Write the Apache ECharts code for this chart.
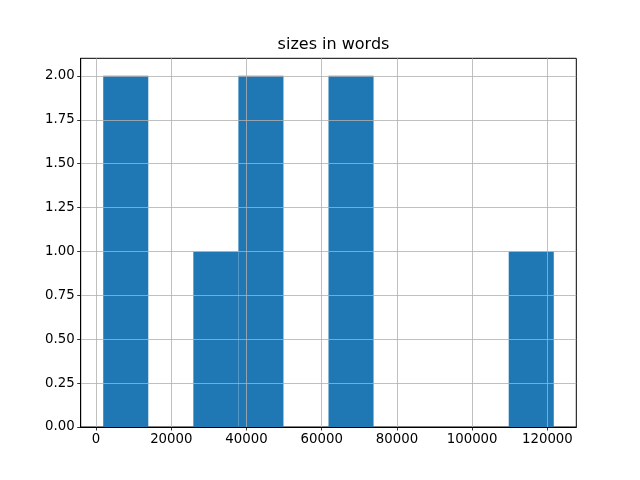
<!DOCTYPE html>
<html>
<head>
<meta charset="utf-8">
<script src="https://cdn.jsdelivr.net/npm/echarts@6/dist/echarts.min.js"></script>
<style>html,body{margin:0;padding:0;background:#fff}#c{width:640px;height:480px}</style>
</head>
<body>
<div id="c"></div>
<script>
const titleText = 'sizes in words';
const binEdges = [1900, 13880, 25860, 37840, 49820, 61800, 73780, 85760, 97740, 109720, 121700];
const counts = [2, 0, 1, 2, 0, 2, 0, 0, 0, 1];
const xTicks = [0, 20000, 40000, 60000, 80000, 100000, 120000];
const yTicks = [0, 0.25, 0.5, 0.75, 1.0, 1.25, 1.5, 1.75, 2.0];

const data = counts.map((c, i) => [binEdges[i], binEdges[i + 1], c]);
const font = 'DejaVu Sans';

const chart = echarts.init(document.getElementById('c'), null, {renderer: 'canvas'});
chart.setOption({
  animation: false,
  backgroundColor: '#ffffff',
  title: {
    text: titleText, left: 328.5, top: 32, textAlign: 'center',
    textStyle: {fontFamily: font, fontSize: 16, fontWeight: 'normal', color: '#000'}
  },
  grid: {left: 80.7, right: 63.7, top: 58.3, bottom: 53, containLabel: false,
    show: true, borderColor: '#000', borderWidth: 1},
  xAxis: {
    type: 'value', min: -4090, max: 127690, z: 5,
    axisLine: {show: true, onZero: false, lineStyle: {color: '#000', width: 1}},
    axisTick: {show: true, length: 3.5, inside: false, customValues: xTicks, lineStyle: {color: '#000', width: 0.8}},
    axisLabel: {show: true, customValues: xTicks, margin: 6, fontFamily: font, fontSize: 13.3, color: '#000',
      formatter: v => String(Math.round(v))},
    splitLine: {show: true, lineStyle: {color: '#b0b0b0', width: 0.8}}
  },
  yAxis: {
    type: 'value', min: 0, max: 2.1, z: 5,
    axisLine: {show: true, onZero: false, lineStyle: {color: '#000', width: 1}},
    axisTick: {show: true, length: 3.5, inside: false, customValues: yTicks, lineStyle: {color: '#000', width: 0.8}},
    axisLabel: {show: true, customValues: yTicks, margin: 6, fontFamily: font, fontSize: 13.3, color: '#000',
      formatter: v => v.toFixed(2)},
    splitLine: {show: true, lineStyle: {color: '#b0b0b0', width: 0.8}}
  },
  series: [{
    type: 'custom', z: 1,
    renderItem: function (params, api) {
      const x0 = api.value(0), x1 = api.value(1), h = api.value(2);
      if (!h) return null;
      const p0 = api.coord([x0, h]);
      const p1 = api.coord([x1, 0]);
      return {type: 'rect', shape: {x: p0[0], y: p0[1], width: p1[0] - p0[0], height: p1[1] - p0[1]},
        style: {fill: '#1f77b4'}};
    },
    encode: {x: [0, 1], y: 2},
    data: data
  }]
});
</script>
</body>
</html>
